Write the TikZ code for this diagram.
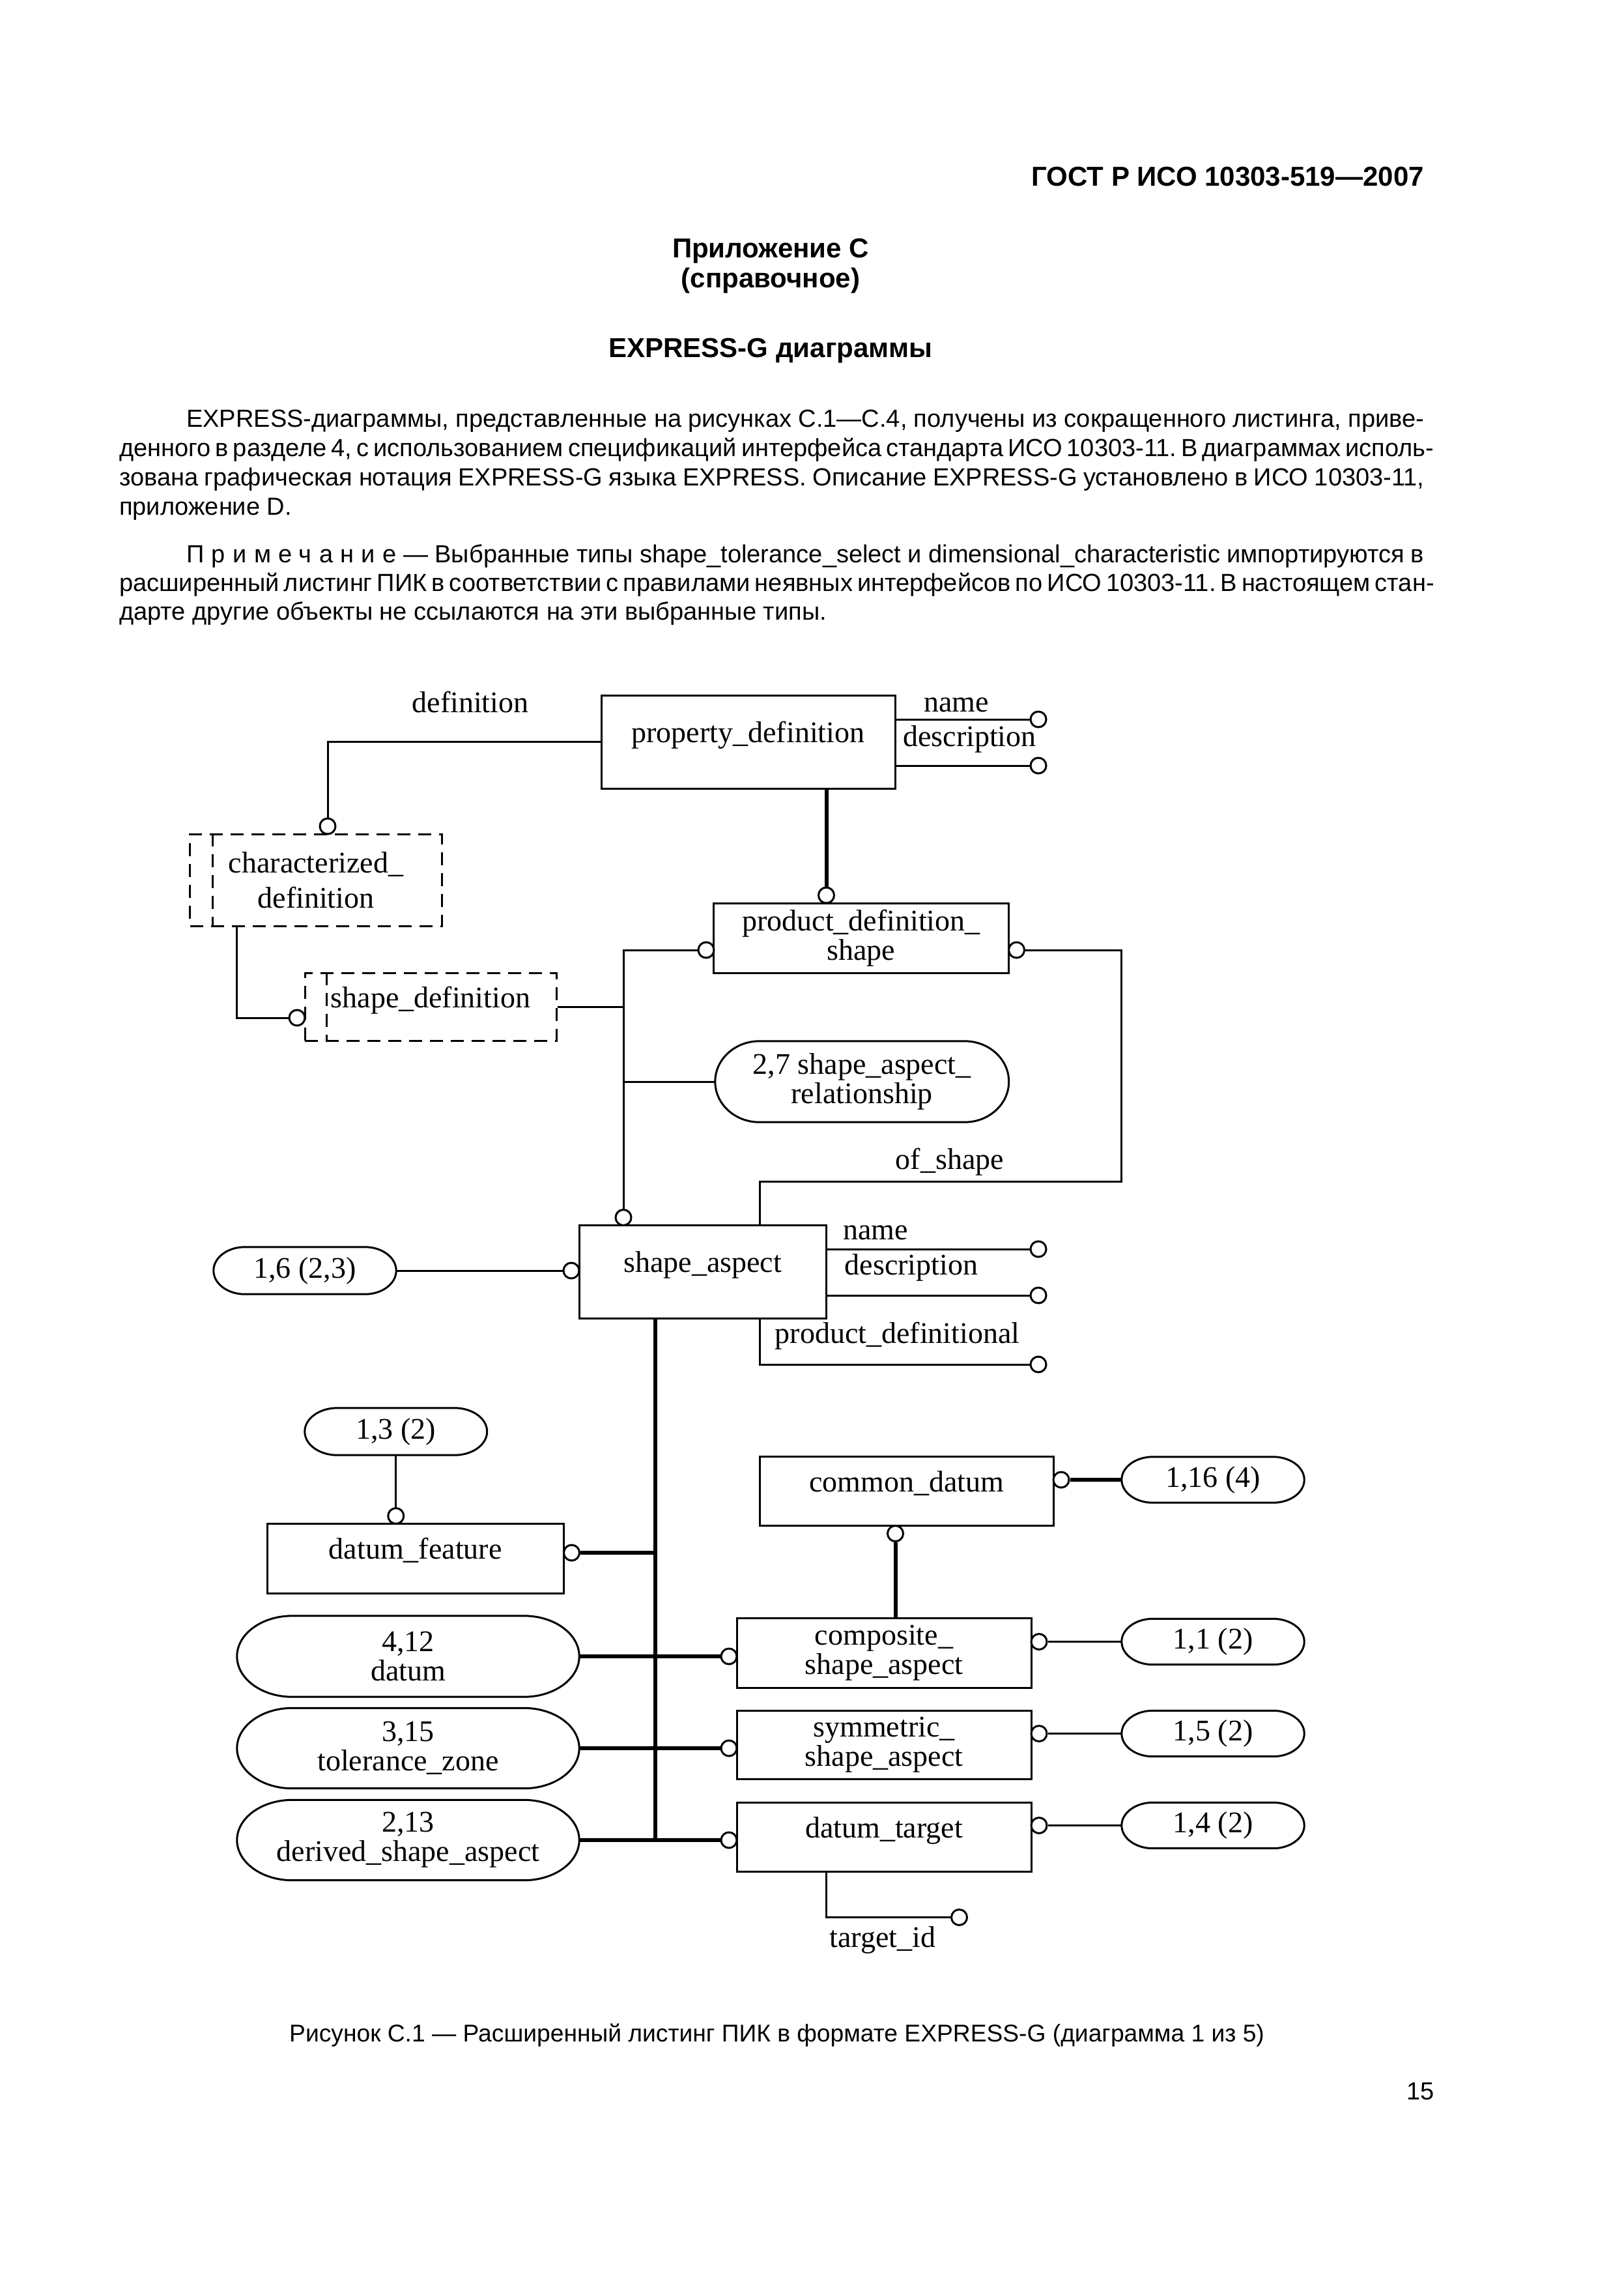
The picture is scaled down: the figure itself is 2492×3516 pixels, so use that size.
\documentclass[tikz,border=0pt]{standalone}
\usepackage{fontspec}
\setmainfont{Liberation Sans}
\newfontfamily\diagfont{Liberation Serif}
\usetikzlibrary{calc}
\frenchspacing
\newcommand\dfont{\diagfont\fontsize{46pt}{45pt}\selectfont}
\newcommand\bodyfont{\fontsize{38pt}{45pt}\selectfont}
\newcommand\headfont{\bfseries\fontsize{42pt}{45pt}\selectfont}
\newcommand\jline[2]{\makebox[#1][s]{#2}}
\newcommand\ovaldraw[2]{%
	\draw[link] let \p1=(#1.north), \p2=(#1.south), \n1={(\y1-\y2)/2} in
		([xshift=#2]#1.north west) -- ([xshift=-#2]#1.north east)
		arc[start angle=90, end angle=-90, x radius=#2, y radius={\n1*1pt}]
		-- ([xshift=#2]#1.south west)
		arc[start angle=270, end angle=90, x radius=#2, y radius={\n1*1pt}] -- cycle;}
\begin{document}
\begin{tikzpicture}[x=1pt, y=-1pt,
	link/.style={line width=3pt},
	sublink/.style={line width=6pt},
	entity/.style={draw, line width=3pt, inner sep=0pt, font=\dfont, align=center},
	oneline/.style={text height=31pt, text depth=29pt},
	selbox/.style={draw, line width=3pt, dash pattern=on 20pt off 12pt, inner sep=0pt, font=\dfont, align=center},
	typeoval/.style={inner sep=0pt, font=\dfont, align=center},
	ring/.style={circle, draw, fill=white, line width=3pt, minimum size=24pt, inner sep=0pt},
	attr/.style={inner sep=0pt, font=\dfont},
	body/.style={anchor=base west, inner sep=0pt, font=\bodyfont}]
		\path[use as bounding box, fill=white] (0,0) rectangle (2492,3516);
		\node[anchor=base east, inner sep=0pt, font=\headfont] (gost) at (2186,286) {ГОСТ Р ИСО 10303-519—2007};
		\node[anchor=base, inner sep=0pt, font=\headfont] (app) at (1183,395) {Приложение С};
		\node[anchor=base, inner sep=0pt, font=\headfont] (appkind) at (1183,441) {(справочное)};
		\node[anchor=base, inner sep=0pt, font=\headfont] (title) at (1183,548) {EXPRESS-G диаграммы};
		\node[body] (par1) at (286,655) {\jline{1900pt}{EXPRESS-диаграммы, представленные на рисунках С.1—С.4, получены из сокращенного листинга, приве-}};
		\node[body] (par2) at (183,700) {\jline{2003pt}{денного в разделе 4, с использованием спецификаций интерфейса стандарта ИСО 10303-11. В диаграммах исполь-}};
		\node[body] (par3) at (183,745) {\jline{2003pt}{зована графическая нотация EXPRESS-G языка EXPRESS. Описание EXPRESS-G установлено в ИСО 10303-11,}};
		\node[body] (par4) at (183,790) {приложение D.};
		\node[body] (note1) at (286,863) {\jline{1900pt}{{\addfontfeature{LetterSpace=30}Примечание} — Выбранные типы shape\_tolerance\_select и dimensional\_characteristic импортируются в}};
		\node[body] (note2) at (183,907) {\jline{2003pt}{расширенный листинг ПИК в соответствии с правилами неявных интерфейсов по ИСО 10303-11. В настоящем стан-}};
		\node[body] (note3) at (183,951) {дарте другие объекты не ссылаются на эти выбранные типы.};

		\node[entity, oneline, minimum width=451pt, minimum height=143pt] (pdef) at (1148.5,1138.5) {property\_definition};
		\node[selbox, minimum width=386.5pt, minimum height=141pt, font=\diagfont\fontsize{46pt}{54pt}\selectfont] (chdef) at (485,1350.5) {characterized\_\\definition};
		\node[selbox, oneline, minimum width=386pt, minimum height=104pt] (shdef) at (661,1545) {shape\_definition};
		\node[entity, minimum width=452.5pt, minimum height=107pt] (pds) at (1322,1439.5) {product\_definition\_\\shape};
		\node[typeoval, minimum width=450.5pt, minimum height=124pt] (sar) at (1323.25,1660) {2,7 shape\_aspect\_\\relationship};
		\node[entity, oneline, minimum width=379.5pt, minimum height=142.5pt] (sa) at (1078.75,1951.75) {shape\_aspect};
		\node[typeoval, minimum width=280pt, minimum height=72pt] (o16) at (468,1950) {1,6 (2,3)};
		\node[typeoval, minimum width=279.5pt, minimum height=72pt] (o13) at (607.75,2197) {1,3 (2)};
		\node[entity, oneline, minimum width=455.5pt, minimum height=106.5pt] (dfeat) at (637.75,2391.75) {datum\_feature};
		\node[typeoval, minimum width=525pt, minimum height=124pt] (o412) at (626.5,2542) {4,12\\datum};
		\node[typeoval, minimum width=525pt, minimum height=123pt] (o315) at (626.5,2683) {3,15\\tolerance\_zone};
		\node[typeoval, minimum width=525pt, minimum height=123pt] (o213) at (626.5,2824) {2,13\\derived\_shape\_aspect};
		\node[entity, oneline, minimum width=450.5pt, minimum height=106.5pt] (cdat) at (1391.75,2288.25) {common\_datum};
		\node[entity, minimum width=452pt, minimum height=107pt] (comp) at (1357,2536.5) {composite\_\\shape\_aspect};
		\node[entity, minimum width=452pt, minimum height=104.5pt] (sym) at (1357,2677.75) {symmetric\_\\shape\_aspect};
		\node[entity, oneline, minimum width=452pt, minimum height=106pt] (dtgt) at (1357,2819) {datum\_target};
		\node[typeoval, minimum width=280pt, minimum height=70pt] (o116) at (1862,2271) {1,16 (4)};
		\node[typeoval, minimum width=280pt, minimum height=70pt] (o11) at (1862,2519.5) {1,1 (2)};
		\node[typeoval, minimum width=280pt, minimum height=70pt] (o15) at (1862,2660.5) {1,5 (2)};
		\node[typeoval, minimum width=280pt, minimum height=70pt] (o14) at (1862,2801.5) {1,4 (2)};

		\ovaldraw{sar}{68pt}
		\ovaldraw{o16}{48pt}
		\ovaldraw{o13}{50pt}
		\ovaldraw{o412}{85pt}
		\ovaldraw{o315}{85pt}
		\ovaldraw{o213}{85pt}
		\ovaldraw{o116}{48pt}
		\ovaldraw{o11}{48pt}
		\ovaldraw{o15}{48pt}
		\ovaldraw{o14}{48pt}
		\draw[link, dash pattern=on 20pt off 12pt] ([xshift=36.5pt]chdef.north west) -- ([xshift=36.5pt]chdef.south west);
		\draw[link, dash pattern=on 20pt off 12pt] ([xshift=35pt]shdef.north west) -- ([xshift=35pt]shdef.south west);

		\coordinate (ofs) at (1721,1813.5);
		\coordinate (pdx) at (1166.5,2094);
		\coordinate (bus) at (1006,2824);

		\node[ring] (r1) at (503,1268) {};
		\node[ring] (r2) at (1594,1104) {};
		\node[ring] (r3) at (1594,1175) {};
		\node[ring] (r4) at (1268.5,1374) {};
		\node[ring] (r5) at (1084,1458) {};
		\node[ring] (r6) at (1560.5,1458) {};
		\node[ring] (r7) at (456,1562) {};
		\node[ring] (r8) at (957,1868.5) {};
		\node[ring] (r9) at (877,1950) {};
		\node[ring] (r10) at (1594,1917) {};
		\node[ring] (r11) at (1594,1988) {};
		\node[ring] (r12) at (1594,2094) {};
		\node[ring] (r13) at (607.75,2326.5) {};
		\node[ring] (r14) at (877.5,2383) {};
		\node[ring] (r15) at (1629,2271) {};
		\node[ring] (r16) at (1374.5,2353.5) {};
		\node[ring] (r17) at (1119,2542) {};
		\node[ring] (r18) at (1595,2519.5) {};
		\node[ring] (r19) at (1119,2683) {};
		\node[ring] (r20) at (1595,2660.5) {};
		\node[ring] (r21) at (1119,2824) {};
		\node[ring] (r22) at (1595,2801.5) {};
		\node[ring] (r23) at (1472.5,2942.5) {};

		\draw[link] (pdef.west) -| (r1.north);
		\draw[link] (pdef.east |- r2) -- (r2.west);
		\draw[link] (pdef.east |- r3) -- (r3.west);
		\draw[sublink] (pdef.south -| r4) -- (r4.north);
		\draw[link] ([xshift=-122pt]chdef.south) |- (r7.west);
		\draw[link] (r5.west) -| (r8.north);
		\draw[link] (shdef.east) -- (shdef.east -| r8);
		\draw[link] (sar.west) -- (sar.west -| r8);
		\draw[link] (r6.east) -| (ofs) -| (pdx |- sa.north);
		\draw[link] (pdx |- sa.south) -- (pdx) -- (r12.west);
		\draw[link] (sa.east |- r10) -- (r10.west);
		\draw[link] (sa.east |- r11) -- (r11.west);
		\draw[link] (o16.east) -- (r9.west);
		\draw[sublink] (bus |- sa.south) -- (bus);
		\draw[link] (o13.south) -- (r13.north);
		\draw[sublink] (r14.east) -- (r14 -| bus);
		\draw[sublink] (o412.east) -- (r17.west);
		\draw[sublink] (o315.east) -- (r19.west);
		\draw[sublink] (o213.east) -- (r21.west);
		\draw[sublink] (r15.east) -- (o116.west);
		\draw[sublink] (r16.south) -- (r16 |- comp.north);
		\draw[link] (r18.east) -- (o11.west);
		\draw[link] (r20.east) -- (o15.west);
		\draw[link] (r22.east) -- (o14.west);
		\draw[link] ([xshift=-88.5pt]dtgt.south) |- (r23.west);

		\node[attr] (deflab) at (722,1078) {definition};
		\node[attr] (pname) at (1468,1081.5) {name};
		\node[attr] (pdesc) at (1488.5,1134) {description};
		\node[attr] (oflab) at (1458,1783) {of\_shape};
		\node[attr] (sname) at (1344,1892) {name};
		\node[attr] (sdesc) at (1399,1945) {description};
		\node[attr] (sprod) at (1377.5,2050) {product\_definitional};
		\node[attr] (tid) at (1355,2977.5) {target\_id};

		\node[anchor=base, inner sep=0pt, font=\fontsize{37.2pt}{45pt}\selectfont] (caption) at (1192.5,3133) {Рисунок С.1 — Расширенный листинг ПИК в формате EXPRESS-G (диаграмма 1 из 5)};
		\node[anchor=base east, inner sep=0pt, font=\bodyfont] (pageno) at (2202,3222) {15};
	\end{tikzpicture}
\end{document}
